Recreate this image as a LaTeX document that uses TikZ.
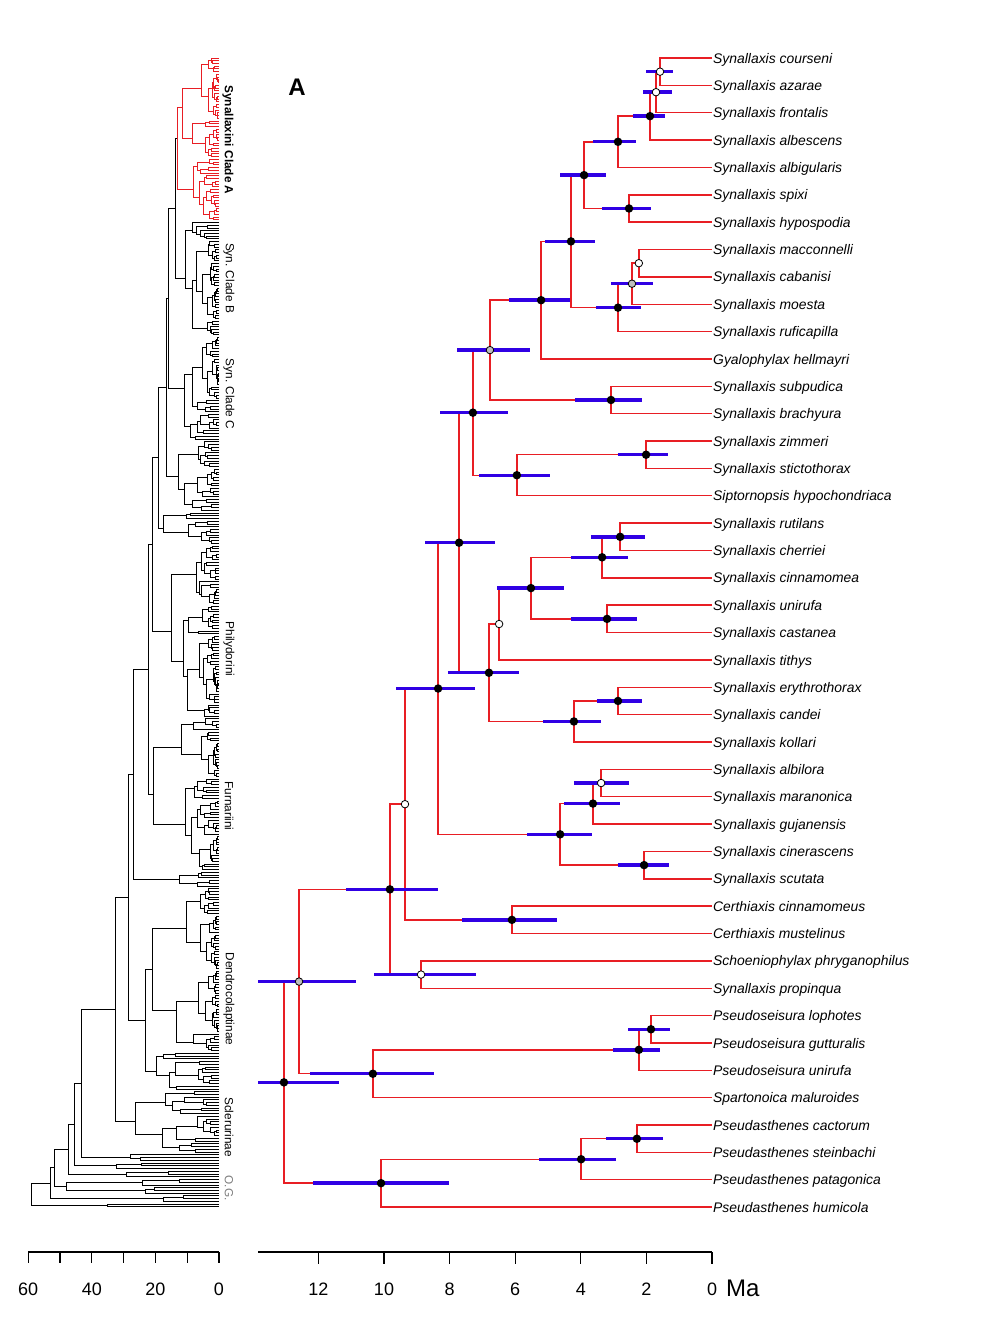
\documentclass[tikz,border=0pt]{standalone}
\usepackage{fontspec}
\setmainfont{Liberation Sans}

\definecolor{treered}{RGB}{232,30,36}
\definecolor{hpdblue}{RGB}{48,0,228}
\definecolor{nodegray}{RGB}{190,190,190}
\definecolor{oggray}{RGB}{125,125,125}

% random cladogram for the family-level inset: tips #1..#2, crown age #3
\newcommand\lsub[3]{%
  \ifnum#1<#2\relax
    \def\subnext{\lsubsplit{#1}{#2}{#3}}%
  \else
    \let\subnext\relax
  \fi
  \subnext}
\newcommand\lsubsplit[3]{%
  \begingroup
  \pgfmathtruncatemacro\subN{#2-#1+1}%
  \pgfmathtruncatemacro\subK{max(1,min(\subN-1,round(\subN*(0.15+0.7*rnd))))}%
  \edef\subA{\the\numexpr#1+\subK-1\relax}%
  \edef\subB{\the\numexpr#1+\subK\relax}%
  \pgfmathsetmacro\subYA{(#1+\subA)/2}%
  \pgfmathsetmacro\subYB{(\subB+#2)/2}%
  \ifnum\subA=#1\relax\def\subTA{0}\else\pgfmathsetmacro\subTA{#3*(0.45+0.45*rnd)}\fi
  \ifnum\subB=#2\relax\def\subTB{0}\else\pgfmathsetmacro\subTB{#3*(0.45+0.45*rnd)}\fi
  \draw (\subTA,\subYA) -| (#3,\subYB) -- (\subTB,\subYB);
  \edef\subnext{\noexpand\lsub{#1}{\subA}{\subTA}\noexpand\lsub{\subB}{#2}{\subTB}}%
  \expandafter\endgroup\subnext}

% node/age/y/hpd low/hpd high/marker
\def\nodetable{1/1.585/0.5/2.01/1.19/dotwhite, 2/1.707/1.25/2.10/1.22/dotwhite,
  3/1.89/2.125/2.41/1.43/dotblack, 4/2.866/3.0625/3.63/2.32/dotblack,
  5/2.53/5.5/3.35/1.86/dotblack, 6/3.90/4.28125/4.63/3.23/dotblack,
  7/2.23/7.5/2.23/2.23/dotwhite, 8/2.44/8.25/3.08/1.80/dotgray,
  9/2.866/9.125/3.54/2.16/dotblack, 10/4.30/6.703/5.09/3.57/dotblack,
  11/5.21/8.852/6.19/4.33/dotblack, 12/3.08/12.5/4.18/2.13/dotblack,
  13/6.77/10.676/7.77/5.55/dotgray, 14/2.01/14.5/2.87/1.34/dotblack,
  15/5.95/15.25/7.10/4.94/dotblack, 16/7.29/12.963/8.29/6.22/dotblack,
  17/2.80/17.5/3.69/2.04/dotblack, 18/3.35/18.25/4.30/2.56/dotblack,
  19/3.20/20.5/4.30/2.29/dotblack, 20/5.52/19.375/6.55/4.51/dotblack,
  21/6.49/20.6875/6.49/6.49/dotwhite, 22/2.866/23.5/3.51/2.13/dotblack,
  23/4.21/24.25/5.15/3.38/dotblack, 24/6.80/22.469/8.05/5.88/dotblack,
  25/7.71/17.716/8.75/6.62/dotblack, 26/3.38/26.5/4.21/2.53/dotwhite,
  27/3.63/27.25/4.51/2.80/dotblack, 28/2.07/29.5/2.87/1.31/dotblack,
  29/4.63/28.375/5.64/3.66/dotblack, 30/8.35/23.045/9.63/7.23/dotblack,
  31/6.10/31.5/7.62/4.73/dotblack, 32/9.36/27.273/9.36/9.36/dotwhite,
  33/8.87/33.5/10.30/7.20/dotwhite, 34/9.82/30.386/11.16/8.35/dotblack,
  35/1.86/35.5/2.56/1.28/dotblack, 36/2.23/36.25/3.02/1.59/dotblack,
  37/10.34/37.125/12.26/8.48/dotblack, 38/12.59/33.756/13.84/10.85/dotgray,
  39/2.29/39.5/3.23/1.49/dotblack, 40/3.99/40.25/5.27/2.93/dotblack,
  41/10.09/41.125/12.16/8.02/dotblack, 42/13.05/37.44/13.84/11.37/dotblack}

\begin{document}
\begin{tikzpicture}[x=1pt,y=-1pt,
    branch/.style={treered,line width=1.45pt},
    hpd/.style={hpdblue,line width=3.4pt},
    dotblack/.style={circle,fill=black,inner sep=0pt,minimum size=8.5pt},
    dotwhite/.style={circle,draw=black,fill=white,line width=0.8pt,inner sep=0pt,minimum size=7.5pt},
    dotgray/.style={dotwhite,fill=nodegray},
    tiplab/.style={anchor=west,inner sep=0pt,xshift=1pt,yshift=-1.6pt,text height=10pt,text depth=3pt,
      font=\fontsize{13.9}{16}\selectfont\itshape},
    cladelab/.style={rotate=-90,inner sep=0pt,font=\fontsize{11.8}{14}\selectfont},
    axlab/.style={inner sep=0pt,font=\fontsize{18}{20}\selectfont},
    scaleline/.style={line width=1.2pt}]
\useasboundingbox (0,0) rectangle (984,1324);

% ---- inset: whole family
\begin{scope}[shift={(219,58)},x=-3.18pt,y=-2.742pt,line width=0.95pt]
  \pgfmathsetseed{11}
  \coordinate (cA) at (13.2,29.5);
  \begin{scope}[treered]
    \lsub{0}{59}{13.2}
  \end{scope}
  \foreach \cn/\cf/\cl/\ct in {B/60/101/10.4, C/102/139/11.0, D/140/165/12.9,
      E/166/177/17.5, Ph/178/240/15.1, Fu/241/296/20.5, H/297/302/12.3,
      De/303/362/21.0, F/363/376/19.8, Sc/377/399/26.4, G1/400/402/27.7,
      G2/403/405/32.1, G3/406/408/29.2, G4/409/411/24.2, G5/412/414/23.0,
      G6/415/417/17.6, G7/418/419/35.2}{
    \coordinate (c\cn) at (\ct,{(\cf+\cl)/2});
    \lsub{\cf}{\cl}{\ct}
  }
  % backbone
  \foreach \k/\t/\y in {k15/13.8/55, k14/15.8/87.75, k13/16.5/120.1, k12/19.0/145.8,
      k11/21.0/177.4, k10/22.3/222.95, k9/27.0/261.2, k8/23.0/351, k7/28.6/306.1,
      k6/32.4/347, k5/43.1/374, k4/45.3/389, k3/47.2/398, k2b/48.1/411.5,
      k2/51.6/404.75, k1/53.1/410.4, k0/59.1/414.4}
    \coordinate (\k) at (\t,\y);
  \foreach \p/\u/\v in {k15/cA/cB, k14/k15/cC, k13/k14/cD, k12/k13/cE, k11/k12/cPh,
      k10/k11/cFu, k9/k10/cH, k8/cDe/cF, k7/k9/k8, k6/k7/cSc, k5/k6/cG1, k4/k5/cG2,
      k3/k4/cG3, k2b/cG4/cG5, k2/k3/k2b, k1/k2/cG6, k0/k1/cG7}
    \draw (\u) -| (\p) |- (\v);
\end{scope}

\node[cladelab,font=\fontsize{11.8}{14}\selectfont\bfseries] (labA) at (228,140) {Synallaxini Clade A};
\node[cladelab] (labB) at (229,278) {Syn. Clade B};
\node[cladelab] (labC) at (229,394) {Syn. Clade C};
\node[cladelab] (labPh) at (229,649) {Philydorini};
\node[cladelab] (labFu) at (229,806) {Furnariini};
\node[cladelab] (labDe) at (229,999) {Dendrocolaptinae};
\node[cladelab] (labSc) at (229,1127) {Sclerurinae};
\node[cladelab,text=oggray] (labOG) at (229,1188) {O.G.};

\begin{scope}[shift={(219,1252)},x=-3.18pt,y=-1pt]
  \draw[scaleline] (60,0) -- (0,0);
  \foreach \t in {0,10,...,60} \draw[scaleline] (\t,0) -- (\t,11);
  \foreach \t in {0,20,40,60} \node[axlab] (la\t) at (\t,37) {\t};
\end{scope}

% ---- chronogram of clade A
\node[inner sep=0pt,font=\fontsize{24}{26}\selectfont\bfseries] (panel) at (297,87) {A};

\begin{scope}[shift={(712,58)},x=-32.8pt,y=-27.36pt]
  \foreach \name [count=\i from 0] in {Synallaxis courseni, Synallaxis azarae,
      Synallaxis frontalis, Synallaxis albescens, Synallaxis albigularis,
      Synallaxis spixi, Synallaxis hypospodia, Synallaxis macconnelli,
      Synallaxis cabanisi, Synallaxis moesta, Synallaxis ruficapilla,
      Gyalophylax hellmayri, Synallaxis subpudica, Synallaxis brachyura,
      Synallaxis zimmeri, Synallaxis stictothorax, Siptornopsis hypochondriaca,
      Synallaxis rutilans, Synallaxis cherriei, Synallaxis cinnamomea,
      Synallaxis unirufa, Synallaxis castanea, Synallaxis tithys,
      Synallaxis erythrothorax, Synallaxis candei, Synallaxis kollari,
      Synallaxis albilora, Synallaxis maranonica, Synallaxis gujanensis,
      Synallaxis cinerascens, Synallaxis scutata, Certhiaxis cinnamomeus,
      Certhiaxis mustelinus, Schoeniophylax phryganophilus, Synallaxis propinqua,
      Pseudoseisura lophotes, Pseudoseisura gutturalis, Pseudoseisura unirufa,
      Spartonoica maluroides, Pseudasthenes cactorum, Pseudasthenes steinbachi,
      Pseudasthenes patagonica, Pseudasthenes humicola}{
    \coordinate (t\i) at (0,\i);
    \node[tiplab] (lab\i) at (t\i) {\name};
  }
  \foreach \n/\t/\y/\lo/\hi/\kind in \nodetable
    \coordinate (n\n) at (\t,\y);

  \foreach \p/\u/\v in {n1/t0/t1, n2/n1/t2, n3/n2/t3, n4/n3/t4, n5/t5/t6, n6/n4/n5,
      n7/t7/t8, n8/n7/t9, n9/n8/t10, n10/n6/n9, n11/n10/t11, n12/t12/t13,
      n13/n11/n12, n14/t14/t15, n15/n14/t16, n16/n13/n15, n17/t17/t18,
      n18/n17/t19, n19/t20/t21, n20/n18/n19, n21/n20/t22, n22/t23/t24,
      n23/n22/t25, n24/n21/n23, n25/n16/n24, n26/t26/t27, n27/n26/t28,
      n28/t29/t30, n29/n27/n28, n30/n25/n29, n31/t31/t32, n32/n30/n31,
      n33/t33/t34, n34/n32/n33, n35/t35/t36, n36/n35/t37, n37/n36/t38,
      n38/n34/n37, n39/t39/t40, n40/n39/t41, n41/n40/t42, n42/n38/n41}
    \draw[branch] (\u) -| (\p) |- (\v);

  % 95% HPD bars, then node support markers
  \foreach \n/\t/\y/\lo/\hi/\kind in \nodetable{
    \ifdim\lo pt=\hi pt\else\draw[hpd] (\lo,\y) -- (\hi,\y);\fi
  }
  \foreach \n/\t/\y/\lo/\hi/\kind in \nodetable
    \node[\kind] (m\n) at (n\n) {};
\end{scope}

\begin{scope}[shift={(712,1252)},x=-32.8pt,y=-1pt]
  \draw[scaleline] (13.84,0) -- (0,0);
  \foreach \t in {0,2,...,12}{
    \draw[scaleline] (\t,0) -- (\t,12);
    \node[axlab] (ra\t) at (\t,37) {\t};
  }
\end{scope}
\node[inner sep=0pt,anchor=west,font=\fontsize{24}{26}\selectfont] (ma) at (726,1288) {Ma};
\end{tikzpicture}
\end{document}
